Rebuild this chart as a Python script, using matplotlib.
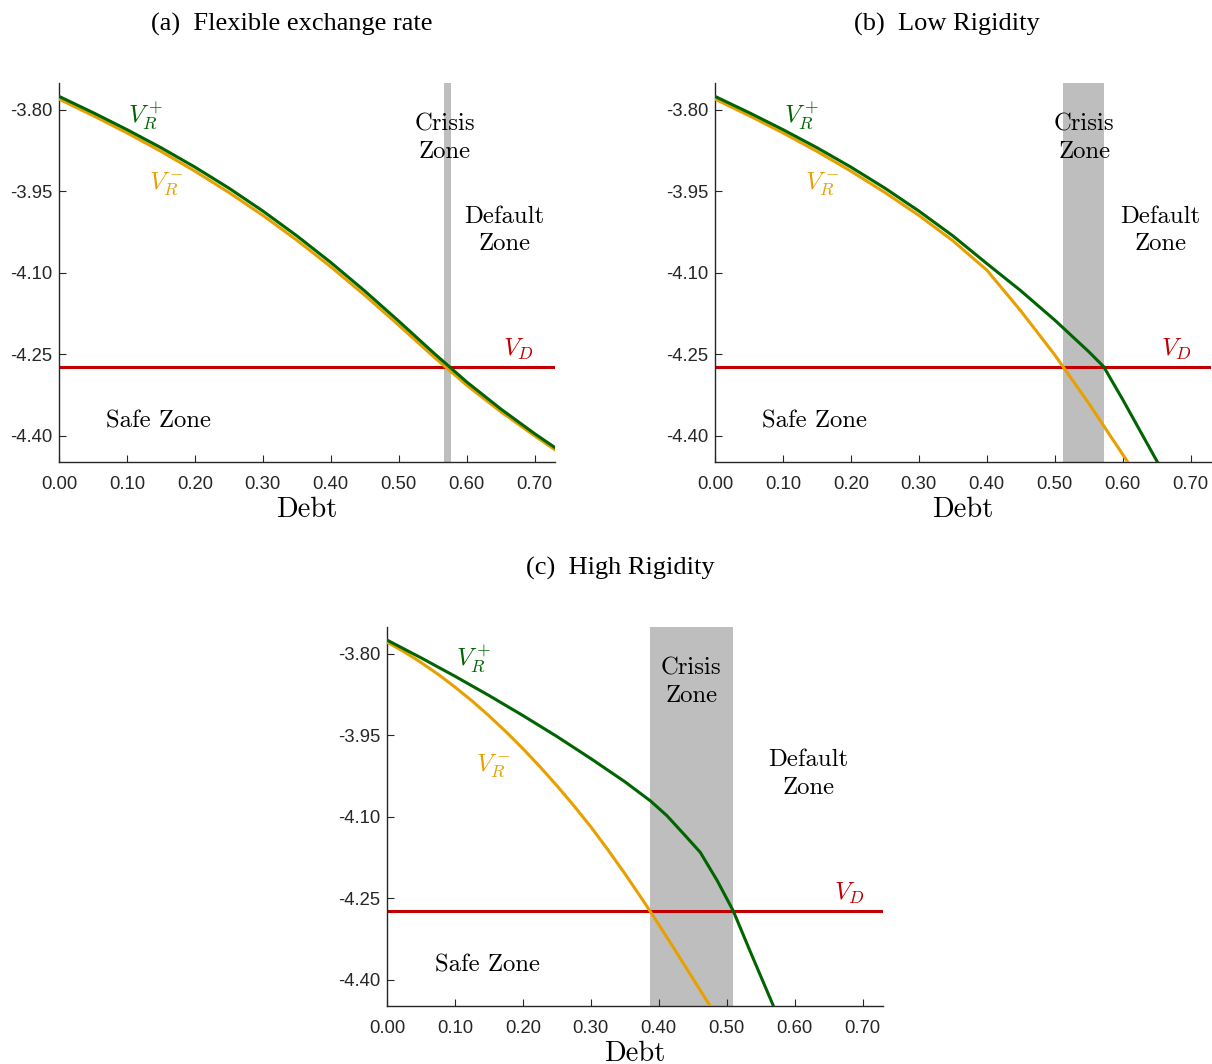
import matplotlib
matplotlib.use("Agg")
import matplotlib.pyplot as plt
import numpy as np

plt.rcParams["mathtext.fontset"] = "cm"

# ---- data ----
V_D = -4.2726

# (a) flexible exchange rate
debt_a = [0.00, 0.05, 0.10, 0.15, 0.20, 0.25, 0.30, 0.35, 0.40, 0.45, 0.50, 0.55, 0.60, 0.65, 0.70, 0.73]
vplus_a = [-3.7756, -3.8054, -3.8367, -3.8699, -3.9056, -3.9443, -3.9864, -4.0320, -4.0810, -4.1335,
           -4.1889, -4.2459, -4.3007, -4.3503, -4.3959, -4.4215]
vminus_a = [-3.7806, -3.8109, -3.8427, -3.8767, -3.9131, -3.9523, -3.9944, -4.0400, -4.0890, -4.1413,
            -4.1964, -4.2529, -4.3067, -4.3553, -4.3999, -4.4255]
crisis_a = (0.5670, 0.5770)

# (b) low rigidity
debt_b_plus = [0.00, 0.05, 0.10, 0.15, 0.20, 0.25, 0.30, 0.35, 0.40, 0.45, 0.50, 0.55, 0.572, 0.60, 0.652]
vplus_b = [-3.7756, -3.8054, -3.8367, -3.8699, -3.9056, -3.9443, -3.9864, -4.0320, -4.0830, -4.1330,
           -4.1870, -4.2450, -4.2726, -4.3330, -4.4500]
debt_b_minus = [0.00, 0.05, 0.10, 0.15, 0.20, 0.25, 0.30, 0.35, 0.40, 0.45, 0.50, 0.55, 0.608]
vminus_b = [-3.7806, -3.8109, -3.8427, -3.8767, -3.9131, -3.9523, -3.9944, -4.0410, -4.0950, -4.1700,
            -4.2510, -4.3400, -4.4490]
crisis_b = (0.512, 0.572)

# (c) high rigidity
debt_c_plus = [0.00, 0.05, 0.10, 0.15, 0.20, 0.25, 0.30, 0.35, 0.3876, 0.412, 0.439, 0.461, 0.486,
               0.5094, 0.535, 0.568]
vplus_c = [-3.7750, -3.8076, -3.8415, -3.8769, -3.9138, -3.9523, -3.9930, -4.0355, -4.0707, -4.0980,
           -4.1348, -4.1653, -4.2174, -4.2726, -4.3490, -4.4458]
debt_c_minus = [0.000, 0.025, 0.050, 0.075, 0.100, 0.125, 0.150, 0.175, 0.200, 0.225, 0.250, 0.275,
                0.300, 0.325, 0.350, 0.375, 0.3876, 0.400, 0.425, 0.450, 0.4755]
vminus_c = [-3.7787, -3.7965, -3.8162, -3.8378, -3.8614, -3.8868, -3.9142, -3.9435, -3.9747, -4.0078,
            -4.0428, -4.0797, -4.1185, -4.1605, -4.2045, -4.2505, -4.2744, -4.2983, -4.3473, -4.3971,
            -4.4480]
crisis_c = (0.3876, 0.5094)

xticks = [0.0, 0.1, 0.2, 0.3, 0.4, 0.5, 0.6, 0.7]
yticks = [-3.80, -3.95, -4.10, -4.25, -4.40]

GREEN = "#006400"
ORANGE = "#E8A000"
RED = "#C00000"
BAND = "#BEBEBE"
AXC = "#262626"
CM = "cmr10"

W, H = 1212, 1064
fig = plt.figure(figsize=(W / 100, H / 100), dpi=100)


def panel(rect, xp, yp, xm, ym, band, lab):
    ax = fig.add_axes([rect[0] / W, 1 - rect[3] / H, (rect[2] - rect[0]) / W, (rect[3] - rect[1]) / H])
    ax.axvspan(band[0], band[1], color=BAND, lw=0, zorder=1)
    ax.axhline(V_D, color=RED, lw=2.2, zorder=2)
    ax.plot(xm, ym, color=ORANGE, lw=2.2, zorder=3)
    ax.plot(xp, yp, color=GREEN, lw=2.2, zorder=4)
    ax.set_xlim(0, 0.73)
    ax.set_ylim(-4.448, -3.751)
    ax.set_xticks(xticks, labels=[f"{t:.2f}" for t in xticks])
    ax.set_yticks(yticks, labels=[f"{t:.2f}" for t in yticks])
    for s in ("top", "right"):
        ax.spines[s].set_visible(False)
    for s in ("left", "bottom"):
        ax.spines[s].set_color(AXC)
        ax.spines[s].set_linewidth(1.0)
    ax.tick_params(direction="in", length=5, width=0.8, color=AXC, labelcolor=AXC, labelsize=13.3)
    ax.tick_params(axis="x", pad=10)
    ax.tick_params(axis="y", pad=5)
    for t in ax.get_xticklabels() + ax.get_yticklabels():
        t.set_fontfamily("Liberation Sans")
    ax.set_xlabel("Debt", fontfamily=CM, fontsize=20.5, labelpad=3)

    kw = dict(ha="center", va="center", zorder=5)
    ax.text(lab["vp"][0], lab["vp"][1], r"$V_R^+$", color=GREEN, fontsize=18, **kw)
    ax.text(lab["vm"][0], lab["vm"][1], r"$V_R^-$", color=ORANGE, fontsize=18, **kw)
    ax.text(lab["vd"][0], lab["vd"][1], r"$V_D$", color=RED, fontsize=18, **kw)
    ax.text(lab["cz"][0], lab["cz"][1], "Crisis\nZone", fontfamily=CM, fontsize=17.8, linespacing=1.3, **kw)
    ax.text(lab["dz"][0], lab["dz"][1], "Default\nZone", fontfamily=CM, fontsize=17.8, linespacing=1.3, **kw)
    ax.text(lab["sz"][0], lab["sz"][1], "Safe Zone", fontfamily=CM, fontsize=17.8, **kw)
    return ax


panel((59, 83, 555, 462), debt_a, vplus_a, debt_a, vminus_a, crisis_a,
      dict(vp=(0.128, -3.811), vm=(0.158, -3.937), vd=(0.676, -4.240),
           cz=(0.568, -3.853), dz=(0.656, -4.022), sz=(0.147, -4.374)))
panel((715, 83, 1211, 462), debt_b_plus, vplus_b, debt_b_minus, vminus_b, crisis_b,
      dict(vp=(0.127, -3.811), vm=(0.158, -3.937), vd=(0.679, -4.240),
           cz=(0.5435, -3.853), dz=(0.6554, -4.022), sz=(0.147, -4.374)))
panel((387, 627, 883, 1006), debt_c_plus, vplus_c, debt_c_minus, vminus_c, crisis_c,
      dict(vp=(0.127, -3.809), vm=(0.157, -4.006), vd=(0.681, -4.240),
           cz=(0.448, -3.852), dz=(0.620, -4.021), sz=(0.1474, -4.374)))

tkw = dict(ha="center", va="center", fontfamily="Liberation Serif", fontsize=19)
fig.text(292 / W, 1 - 24 / H, "(a)  Flexible exchange rate", **tkw)
fig.text(947 / W, 1 - 24 / H, "(b)  Low Rigidity", **tkw)
fig.text(620 / W, 1 - 568 / H, "(c)  High Rigidity", **tkw)

fig.savefig("out.png", dpi=100)
